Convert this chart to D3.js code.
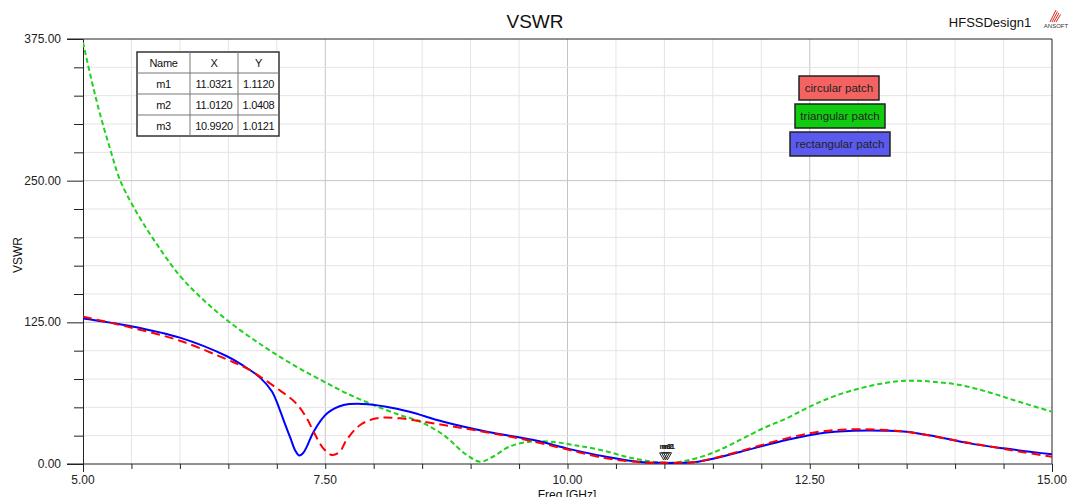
<!DOCTYPE html>
<html>
<head>
<meta charset="utf-8">
<script src="https://cdn.jsdelivr.net/npm/d3@7"></script>
<style>
  body { margin: 0; background: #fff; }
  text { font-family: 'Liberation Sans', Arial, sans-serif; }
</style>
</head>
<body>
<div id="chart"></div>
<script>
// frequency (GHz) and VSWR
let circularFreq = [5.0, 5.485, 6.0, 6.48, 6.69, 7.0, 7.2, 7.31, 7.38, 7.48, 7.57, 7.65, 7.72, 7.86, 8.03, 8.27, 8.72, 9.13, 9.58, 9.99, 10.4, 10.75, 11.03, 11.3, 11.57, 11.92, 12.26, 12.6, 12.95, 13.29, 13.57, 13.98, 14.33, 14.67, 15.0]
let circularVswr = [130, 120.6, 108.8, 92.4, 84.4, 66.8, 53.5, 40.3, 28.5, 13.8, 8, 10.9, 21.2, 34.4, 40.3, 40.3, 34.4, 28.5, 21.2, 13, 5.0, 1.6, 1.11, 1.6, 6.4, 14.7, 22.6, 28.5, 30.6, 30, 27.6, 21.2, 15.9, 10.9, 6.4]

let triangularFreq = [5.0, 5.09, 5.175, 5.28, 5.38, 5.52, 5.73, 6.0, 6.24, 6.5, 6.86, 7.2, 7.48, 7.72, 8.0, 8.27, 8.48, 8.72, 8.96, 9.1, 9.23, 9.4, 9.61, 9.82, 10.06, 10.34, 10.68, 11.01, 11.2, 11.44, 11.57, 11.78, 12.02, 12.26, 12.5, 12.74, 13.02, 13.29, 13.53, 13.77, 14.05, 14.33, 14.6, 15.0]
let triangularVswr = [372, 338, 309, 278, 251, 227, 198, 166, 145, 126, 104, 86, 73, 62.4, 52, 43.2, 37.3, 25.6, 8, 2, 6.4, 15.3, 19.7, 19.7, 16.8, 12.4, 5.0, 1.04, 2.5, 8, 12.4, 21.2, 31.5, 40.3, 50.6, 59.4, 66.8, 71.7, 73.5, 72.6, 69.7, 63.8, 56.5, 46.1]

let rectangularFreq = [5.0, 5.485, 6.0, 6.48, 6.65, 6.83, 6.95, 7.03, 7.09, 7.14, 7.19, 7.23, 7.27, 7.31, 7.38, 7.52, 7.69, 7.89, 8.13, 8.37, 8.72, 9.17, 9.65, 9.99, 10.4, 10.78, 10.99, 11.3, 11.57, 11.92, 12.26, 12.6, 12.95, 13.29, 13.5, 13.81, 14.15, 14.5, 15.0]
let rectangularVswr = [128.5, 121.8, 111.5, 95.3, 87, 76, 64, 48, 34, 23, 12, 7.5, 9.5, 15.3, 28.5, 44.7, 52, 53, 50.6, 46.1, 37.3, 28.5, 21.2, 13.8, 6.4, 1.5, 1.01, 1.5, 5.9, 13.8, 21.2, 27, 29.4, 29.4, 28.5, 24.1, 18.2, 13.8, 8.5]

let markerNames = ['m1', 'm2', 'm3']
let markerX = [11.0321, 11.0120, 10.9920]
let markerY = [1.1120, 1.0408, 1.0121]

let legendNames = ['circular patch', 'triangular patch', 'rectangular patch']
let yTicks = [0, 125, 250, 375]
let xTicks = [5, 7.5, 10, 12.5, 15]

let width = 1069
let height = 497
let margin = { top: 39, left: 83, right: 17, bottom: 33 }

let svg = d3
  .select('#chart')
  .append('svg')
  .attr('width', width)
  .attr('height', height)

let x = d3.scaleLinear().domain([5, 15]).range([margin.left, width - margin.right])
let y = d3.scaleLinear().domain([0, 375]).range([height - margin.bottom, margin.top])

svg.append('clipPath')
  .attr('id', 'plot-clip')
  .append('rect')
  .attr('x', x(5)).attr('y', y(375))
  .attr('width', x(15) - x(5)).attr('height', y(0) - y(375))

// grid
let minorX = d3.range(5.5, 15, 0.5)
let minorY = d3.range(25, 375, 25)

svg.append('g')
  .selectAll('line')
  .data(minorX)
  .enter()
  .append('line')
  .attr('x1', d => x(d)).attr('x2', d => x(d))
  .attr('y1', y(375)).attr('y2', y(0))
  .attr('stroke', d => (d % 2.5 === 0 ? '#c4c4c4' : '#e4e4e4'))
  .attr('stroke-width', 1)

svg.append('g')
  .selectAll('line')
  .data(minorY)
  .enter()
  .append('line')
  .attr('x1', x(5)).attr('x2', x(15))
  .attr('y1', d => y(d)).attr('y2', d => y(d))
  .attr('stroke', d => (d % 125 === 0 ? '#c4c4c4' : '#e4e4e4'))
  .attr('stroke-width', 1)

// axes
let yAxis = d3.axisLeft(y).tickValues(d3.range(0, 376, 25)).tickSize(9).tickFormat('')
svg.append('g')
  .attr('transform', `translate(${margin.left},0)`)
  .call(yAxis)
  .call(g => g.select('.domain').attr('stroke', '#222'))
  .call(g => g.selectAll('.tick line')
    .attr('stroke', '#222')
    .attr('x2', d => (d % 125 === 0 ? -16 : -9)))

svg.append('g')
  .selectAll('text')
  .data(yTicks)
  .enter()
  .append('text')
  .attr('x', 61)
  .attr('y', d => y(d) + 4)
  .attr('text-anchor', 'end')
  .attr('font-size', 12)
  .attr('fill', '#222')
  .text(d => d.toFixed(2))

let xAxis = d3.axisBottom(x).tickValues(d3.range(5, 15.01, 0.5)).tickSize(5).tickFormat('')
svg.append('g')
  .attr('transform', `translate(0,${y(0)})`)
  .call(xAxis)
  .call(g => g.select('.domain').remove())
  .call(g => g.selectAll('.tick line')
    .attr('stroke', '#222')
    .attr('y2', d => (d === 5 || d === 15 ? 8 : 5)))

svg.append('g')
  .selectAll('text')
  .data(xTicks)
  .enter()
  .append('text')
  .attr('x', d => x(d))
  .attr('y', 484)
  .attr('text-anchor', 'middle')
  .attr('font-size', 12)
  .attr('fill', '#222')
  .text(d => d.toFixed(2))

// frame
svg.append('line')
  .attr('x1', 67).attr('x2', x(15))
  .attr('y1', y(0)).attr('y2', y(0))
  .attr('stroke', '#222')
svg.append('line')
  .attr('x1', 67).attr('x2', x(15))
  .attr('y1', y(375)).attr('y2', y(375))
  .attr('stroke', '#222')
svg.append('line')
  .attr('x1', x(15)).attr('x2', x(15))
  .attr('y1', y(375)).attr('y2', y(0))
  .attr('stroke', '#222')

// curves
let line = d3.line()
  .x(d => x(d[0]))
  .y(d => y(d[1]))
  .curve(d3.curveCatmullRom.alpha(0.5))

let plot = svg.append('g').attr('clip-path', 'url(#plot-clip)')

plot.append('path')
  .datum(d3.zip(triangularFreq, triangularVswr))
  .attr('d', line)
  .attr('fill', 'none')
  .attr('stroke', '#1ed21e')
  .attr('stroke-width', 2)
  .attr('stroke-dasharray', '5,3')

plot.append('path')
  .datum(d3.zip(rectangularFreq, rectangularVswr))
  .attr('d', line)
  .attr('fill', 'none')
  .attr('stroke', '#0000ff')
  .attr('stroke-width', 2)

plot.append('path')
  .datum(d3.zip(circularFreq, circularVswr))
  .attr('d', line)
  .attr('fill', 'none')
  .attr('stroke', '#ff0000')
  .attr('stroke-width', 2)
  .attr('stroke-dasharray', '9,5')

// markers
let markers = svg.append('g')
markerNames.forEach((name, i) => {
  let mx = x(markerX[i])
  let my = y(markerY[i])
  markers.append('path')
    .attr('d', `M${mx - 4},${my - 10} L${mx + 4},${my - 10} L${mx},${my - 3} Z`)
    .attr('fill', 'none')
    .attr('stroke', '#222')
    .attr('stroke-width', 1)
  markers.append('text')
    .attr('x', mx - 4)
    .attr('y', my - 14)
    .attr('font-size', 8)
    .attr('font-weight', 'bold')
    .attr('fill', '#222')
    .text(name)
})

// marker table
let tableLeft = 137
let tableTop = 52
let colW = [53, 48, 41]
let rowH = 21
let rows = [['Name', 'X', 'Y']].concat(markerNames.map((n, i) => [n, markerX[i].toFixed(4), markerY[i].toFixed(4)]))
let table = svg.append('g')
table.append('rect')
  .attr('x', tableLeft).attr('y', tableTop)
  .attr('width', d3.sum(colW)).attr('height', rowH * rows.length)
  .attr('fill', '#fff')
  .attr('stroke', '#333')
  .attr('stroke-width', 1.5)
rows.forEach((row, r) => {
  if (r > 0) {
    table.append('line')
      .attr('x1', tableLeft).attr('x2', tableLeft + d3.sum(colW))
      .attr('y1', tableTop + r * rowH).attr('y2', tableTop + r * rowH)
      .attr('stroke', '#777')
  }
  let cx = tableLeft
  row.forEach((cell, c) => {
    if (c > 0 && r === 0) {
      table.append('line')
        .attr('x1', cx).attr('x2', cx)
        .attr('y1', tableTop).attr('y2', tableTop + rowH * rows.length)
        .attr('stroke', '#777')
    }
    table.append('text')
      .attr('x', cx + colW[c] / 2)
      .attr('y', tableTop + r * rowH + 15)
      .attr('text-anchor', 'middle')
      .attr('font-size', 11)
      .attr('letter-spacing', -0.3)
      .attr('fill', '#111')
      .text(cell)
    cx += colW[c]
  })
})

// legend
let legendColors = ['#f56262', '#10cc10', '#5a5aee']
let legendBoxes = [[799, 76, 80], [795, 104, 90], [790, 132, 100]]
let legend = svg.append('g')
legendNames.forEach((name, i) => {
  let b = legendBoxes[i]
  legend.append('rect')
    .attr('x', b[0]).attr('y', b[1])
    .attr('width', b[2]).attr('height', 24)
    .attr('fill', legendColors[i])
    .attr('stroke', '#222')
    .attr('stroke-width', 1.5)
  legend.append('text')
    .attr('x', b[0] + b[2] / 2)
    .attr('y', b[1] + 16)
    .attr('text-anchor', 'middle')
    .attr('font-size', 11.5)
    .attr('fill', '#222')
    .text(name)
})

// titles
svg.append('text')
  .attr('x', 535).attr('y', 28)
  .attr('text-anchor', 'middle')
  .attr('font-size', 19)
  .attr('fill', '#111')
  .text('VSWR')

svg.append('text')
  .attr('x', 990).attr('y', 27)
  .attr('text-anchor', 'middle')
  .attr('font-size', 13)
  .attr('fill', '#111')
  .text('HFSSDesign1')

svg.append('text')
  .attr('transform', 'translate(22,255) rotate(-90)')
  .attr('text-anchor', 'middle')
  .attr('font-size', 12)
  .attr('fill', '#111')
  .text('VSWR')

svg.append('text')
  .attr('x', 567).attr('y', 499)
  .attr('text-anchor', 'middle')
  .attr('font-size', 12)
  .attr('fill', '#111')
  .text('Freq [GHz]')

// ansoft logo
let logo = svg.append('g')
d3.range(4).forEach(i => {
  logo.append('line')
    .attr('x1', 1050 + i * 2).attr('y1', 22)
    .attr('x2', 1056 + i * 1.5).attr('y2', 10 + i * 1.5)
    .attr('stroke', '#d22')
    .attr('stroke-width', 1)
})
logo.append('text')
  .attr('x', 1056).attr('y', 28)
  .attr('text-anchor', 'middle')
  .attr('font-size', 6)
  .attr('fill', '#333')
  .text('ANSOFT')
</script>
</body>
</html>
